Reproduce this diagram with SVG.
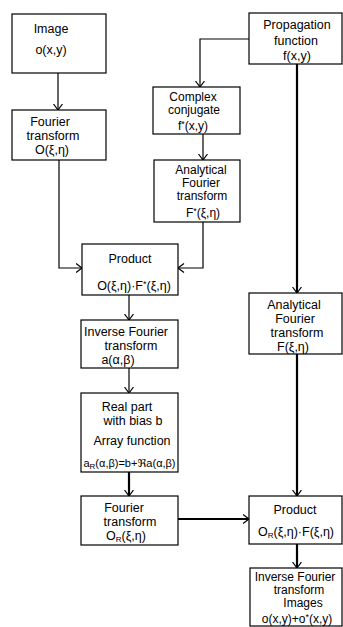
<svg xmlns="http://www.w3.org/2000/svg" width="343" height="627" viewBox="0 0 343 627">
<defs>
<style>
.box{fill:#fff;stroke:#000;stroke-width:1.2}
text{font-family:"Liberation Sans","DejaVu Sans",sans-serif;font-size:12.5px;fill:#000;text-anchor:middle}
.sm{font-size:12px}
.sub{font-size:8px}
.sup{font-size:9px}
.c{fill:none;stroke:#000;stroke-width:1.2}
.t{fill:none;stroke:#000;stroke-width:2.2}
</style>
<marker id="ah" viewBox="0 0 7 10" refX="6.5" refY="5" markerWidth="7" markerHeight="10" markerUnits="userSpaceOnUse" orient="auto">
<path d="M0.5,0.5 L6.5,5 L0.5,9.5" fill="none" stroke="#000" stroke-width="1.2"/>
</marker>
</defs>
<rect width="343" height="627" fill="#fff"/>
<g id="connectors">
<path class="c" d="M58,73 V110" marker-end="url(#ah)"/>
<path class="c" d="M249,39 H200 V87" marker-end="url(#ah)"/>
<path class="c" d="M203,134 V160" marker-end="url(#ah)"/>
<path class="c" d="M59,160 V268 H82" marker-end="url(#ah)"/>
<path class="c" d="M203,222 V268 H178" marker-end="url(#ah)"/>
<path class="t" d="M297,64 V293" marker-end="url(#ah)"/>
<path class="t" d="M297,354 V496" marker-end="url(#ah)"/>
<path class="c" d="M129,295 V320" marker-end="url(#ah)"/>
<path class="c" d="M129,368 V393" marker-end="url(#ah)"/>
<path class="t" d="M129,472 V496" marker-end="url(#ah)"/>
<path class="t" d="M178,519 H249" marker-end="url(#ah)"/>
<path class="t" d="M297,544 V568" marker-end="url(#ah)"/>
</g>
<g id="image">
<rect class="box" x="12" y="14" width="94" height="59"/>
<text x="51" y="33">Image</text>
<text x="51" y="54">o(x,y)</text>
</g>
<g id="fourier1">
<rect class="box" x="12" y="110" width="94" height="50"/>
<text x="50" y="126">Fourier</text>
<text x="53" y="140">transform</text>
<text x="52" y="154">O(ξ,η)</text>
</g>
<g id="propagation">
<rect class="box" x="249" y="13" width="93" height="51"/>
<text x="297" y="29">Propagation</text>
<text x="296" y="45">function</text>
<text x="297" y="60">f(x,y)</text>
</g>
<g id="conjugate">
<rect class="box" x="153" y="87" width="87" height="47"/>
<text class="sm" x="193" y="101">Complex</text>
<text class="sm" x="194" y="114">conjugate</text>
<text class="sm" x="193" y="130">f<tspan class="sup" dy="-3">*</tspan><tspan dy="3">(x,y)</tspan></text>
</g>
<g id="analytical1">
<rect class="box" x="154" y="160" width="86" height="62"/>
<text class="sm" x="201" y="174">Analytical</text>
<text class="sm" x="201" y="187">Fourier</text>
<text class="sm" x="202" y="200">transform</text>
<text class="sm" x="203" y="217">F<tspan class="sup" dy="-3">*</tspan><tspan dy="3">(ξ,η)</tspan></text>
</g>
<g id="product1">
<rect class="box" x="82" y="244" width="96" height="51"/>
<text x="130" y="263">Product</text>
<text x="134" y="290">O(ξ,η)·F<tspan class="sup" dy="-3">*</tspan><tspan dy="3">(ξ,η)</tspan></text>
</g>
<g id="analytical2">
<rect class="box" x="249" y="293" width="93" height="61"/>
<text x="294" y="309">Analytical</text>
<text x="295" y="323">Fourier</text>
<text x="297" y="337">transform</text>
<text x="293" y="351">F(ξ,η)</text>
</g>
<g id="inverse1">
<rect class="box" x="81" y="320" width="97" height="48"/>
<text x="126" y="336">Inverse Fourier</text>
<text x="131" y="350">transform</text>
<text x="118" y="364">a(α,β)</text>
</g>
<g id="realpart">
<rect class="box" x="81" y="393" width="97" height="79"/>
<text x="127" y="411">Real  part</text>
<text x="133" y="425">with  bias b</text>
<text x="132" y="445">Array  function</text>
<text x="129.5" y="467" style="font-size:11px">a<tspan class="sub" dy="2">R</tspan><tspan dy="-2">(α,β)=b+ℜa(α,β)</tspan></text>
</g>
<g id="fourier2">
<rect class="box" x="81" y="496" width="97" height="49"/>
<text x="124" y="512">Fourier</text>
<text x="130" y="526">transform</text>
<text x="126" y="540">O<tspan class="sub" dy="2">R</tspan><tspan dy="-2">(ξ,η)</tspan></text>
</g>
<g id="product2">
<rect class="box" x="249" y="496" width="93" height="48"/>
<text x="295" y="514">Product</text>
<text x="296" y="536">O<tspan class="sub" dy="2">R</tspan><tspan dy="-2">(ξ,η)·F(ξ,η)</tspan></text>
</g>
<g id="inverse2">
<rect class="box" x="250" y="568" width="92" height="58"/>
<text class="sm" x="295" y="581">Inverse Fourier</text>
<text class="sm" x="299" y="594">transform</text>
<text class="sm" x="303" y="607">Images</text>
<text class="sm" x="297" y="623">o(x,y)+o<tspan class="sup" dy="-3">*</tspan><tspan dy="3">(x,y)</tspan></text>
</g>
</svg>
